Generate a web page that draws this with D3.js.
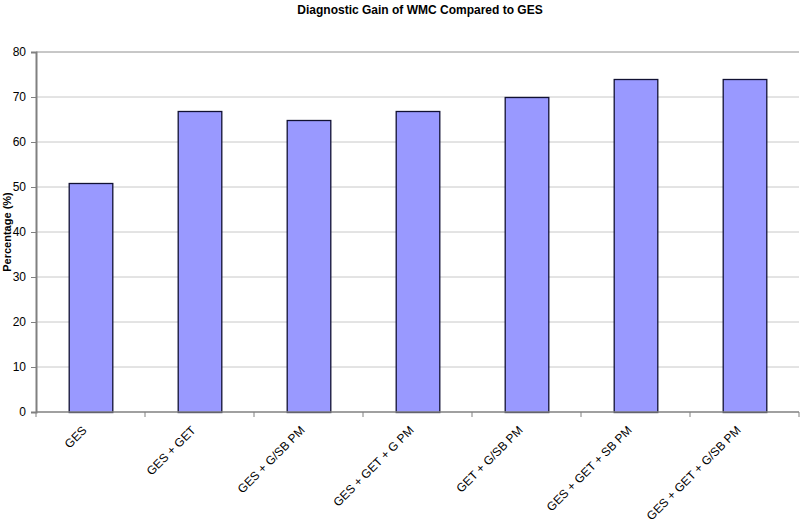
<!DOCTYPE html>
<html>
<head>
<meta charset="utf-8">
<script src="https://cdn.jsdelivr.net/npm/d3@7"></script>
<style>
  body { margin: 0; background: #fff; }
  text { font-family: 'Liberation Sans', Arial, sans-serif; }
</style>
</head>
<body>
<script>
// chart values
var categories = ['GES', 'GES + GET', 'GES + G/SB PM', 'GES + GET + G PM',
                  'GET + G/SB PM', 'GES + GET + SB PM', 'GES + GET + G/SB PM'];
var values = [51, 67, 65, 67, 70, 74, 74];
var yTicks = [0, 10, 20, 30, 40, 50, 60, 70, 80];

var w = 800;
var h = 522;
var m = { top: 52, right: 1, bottom: 110, left: 36 };

var svg = d3.select('body')
            .append('svg')
            .attr('width', w)
            .attr('height', h);

var x = d3.scaleBand()
  .domain(categories)
  .range([m.left, w - m.right])
  .paddingInner(0.6)
  .paddingOuter(0.3);

var y = d3.scaleLinear()
  .domain([0, 80])
  .range([h - m.bottom, m.top]);

// gridlines
svg.append('g')
  .selectAll('line')
  .data(yTicks.slice(1))
  .enter()
  .append('line')
    .attr('x1', m.left)
    .attr('x2', w - m.right)
    .attr('y1', d => y(d))
    .attr('y2', d => y(d))
    .attr('stroke', d => d == 80 ? '#909090' : '#c8c8c8')
    .attr('stroke-width', 1);

// bars
svg.selectAll('rect.bar')
  .data(values)
  .enter()
  .append('rect')
    .attr('class', 'bar')
    .attr('x', (d, i) => x(categories[i]) + 0.5)
    .attr('y', d => Math.round(y(d)) + 0.5)
    .attr('width', x.bandwidth())
    .attr('height', d => y(0) - Math.round(y(d)))
    .attr('fill', '#9999ff')
    .attr('stroke', '#111133')
    .attr('stroke-width', 1.3);

// y axis
var yAxis = svg.append('g')
  .attr('transform', 'translate(' + m.left + ',0)')
  .call(d3.axisLeft(y).tickValues(yTicks).tickSize(5).tickPadding(5));
yAxis.select('.domain').attr('stroke', '#808080').attr('stroke-width', 2);
yAxis.selectAll('.tick line').attr('stroke', '#808080');
yAxis.selectAll('.tick text')
  .attr('font-size', '12px')
  .attr('fill', '#000')
  .style('font-family', "'Liberation Sans', Arial, sans-serif");

// x axis: ticks fall between categories
var xAxis = svg.append('g');
xAxis.append('line')
  .attr('x1', m.left)
  .attr('x2', w - m.right)
  .attr('y1', y(0))
  .attr('y2', y(0))
  .attr('stroke', '#808080')
  .attr('stroke-width', 1.5);
xAxis.selectAll('line.tk')
  .data(d3.range(categories.length + 1))
  .enter()
  .append('line')
    .attr('class', 'tk')
    .attr('x1', i => m.left + i * (w - m.right - m.left) / categories.length)
    .attr('x2', i => m.left + i * (w - m.right - m.left) / categories.length)
    .attr('y1', y(0))
    .attr('y2', y(0) + 5)
    .attr('stroke', '#808080');

xAxis.selectAll('text')
  .data(categories)
  .enter()
  .append('text')
    .text(d => d)
    .attr('text-anchor', 'end')
    .attr('font-size', '12px')
    .attr('transform', d => {
      var cx = x(d) + x.bandwidth() / 2 - 3;
      return 'translate(' + cx + ',' + (y(0) + 19) + ') rotate(-45)';
    });

// title
svg.append('text')
  .text('Diagnostic Gain of WMC Compared to GES')
  .attr('x', (m.left + w) / 2 + 2)
  .attr('y', 14)
  .attr('text-anchor', 'middle')
  .attr('font-size', '12px')
  .attr('font-weight', 'bold');

// y axis title
svg.append('text')
  .text('Percentage (%)')
  .attr('transform', 'translate(11,' + y(40) + ') rotate(-90)')
  .attr('text-anchor', 'middle')
  .attr('font-size', '11px')
  .attr('font-weight', 'bold');
</script>
</body>
</html>
